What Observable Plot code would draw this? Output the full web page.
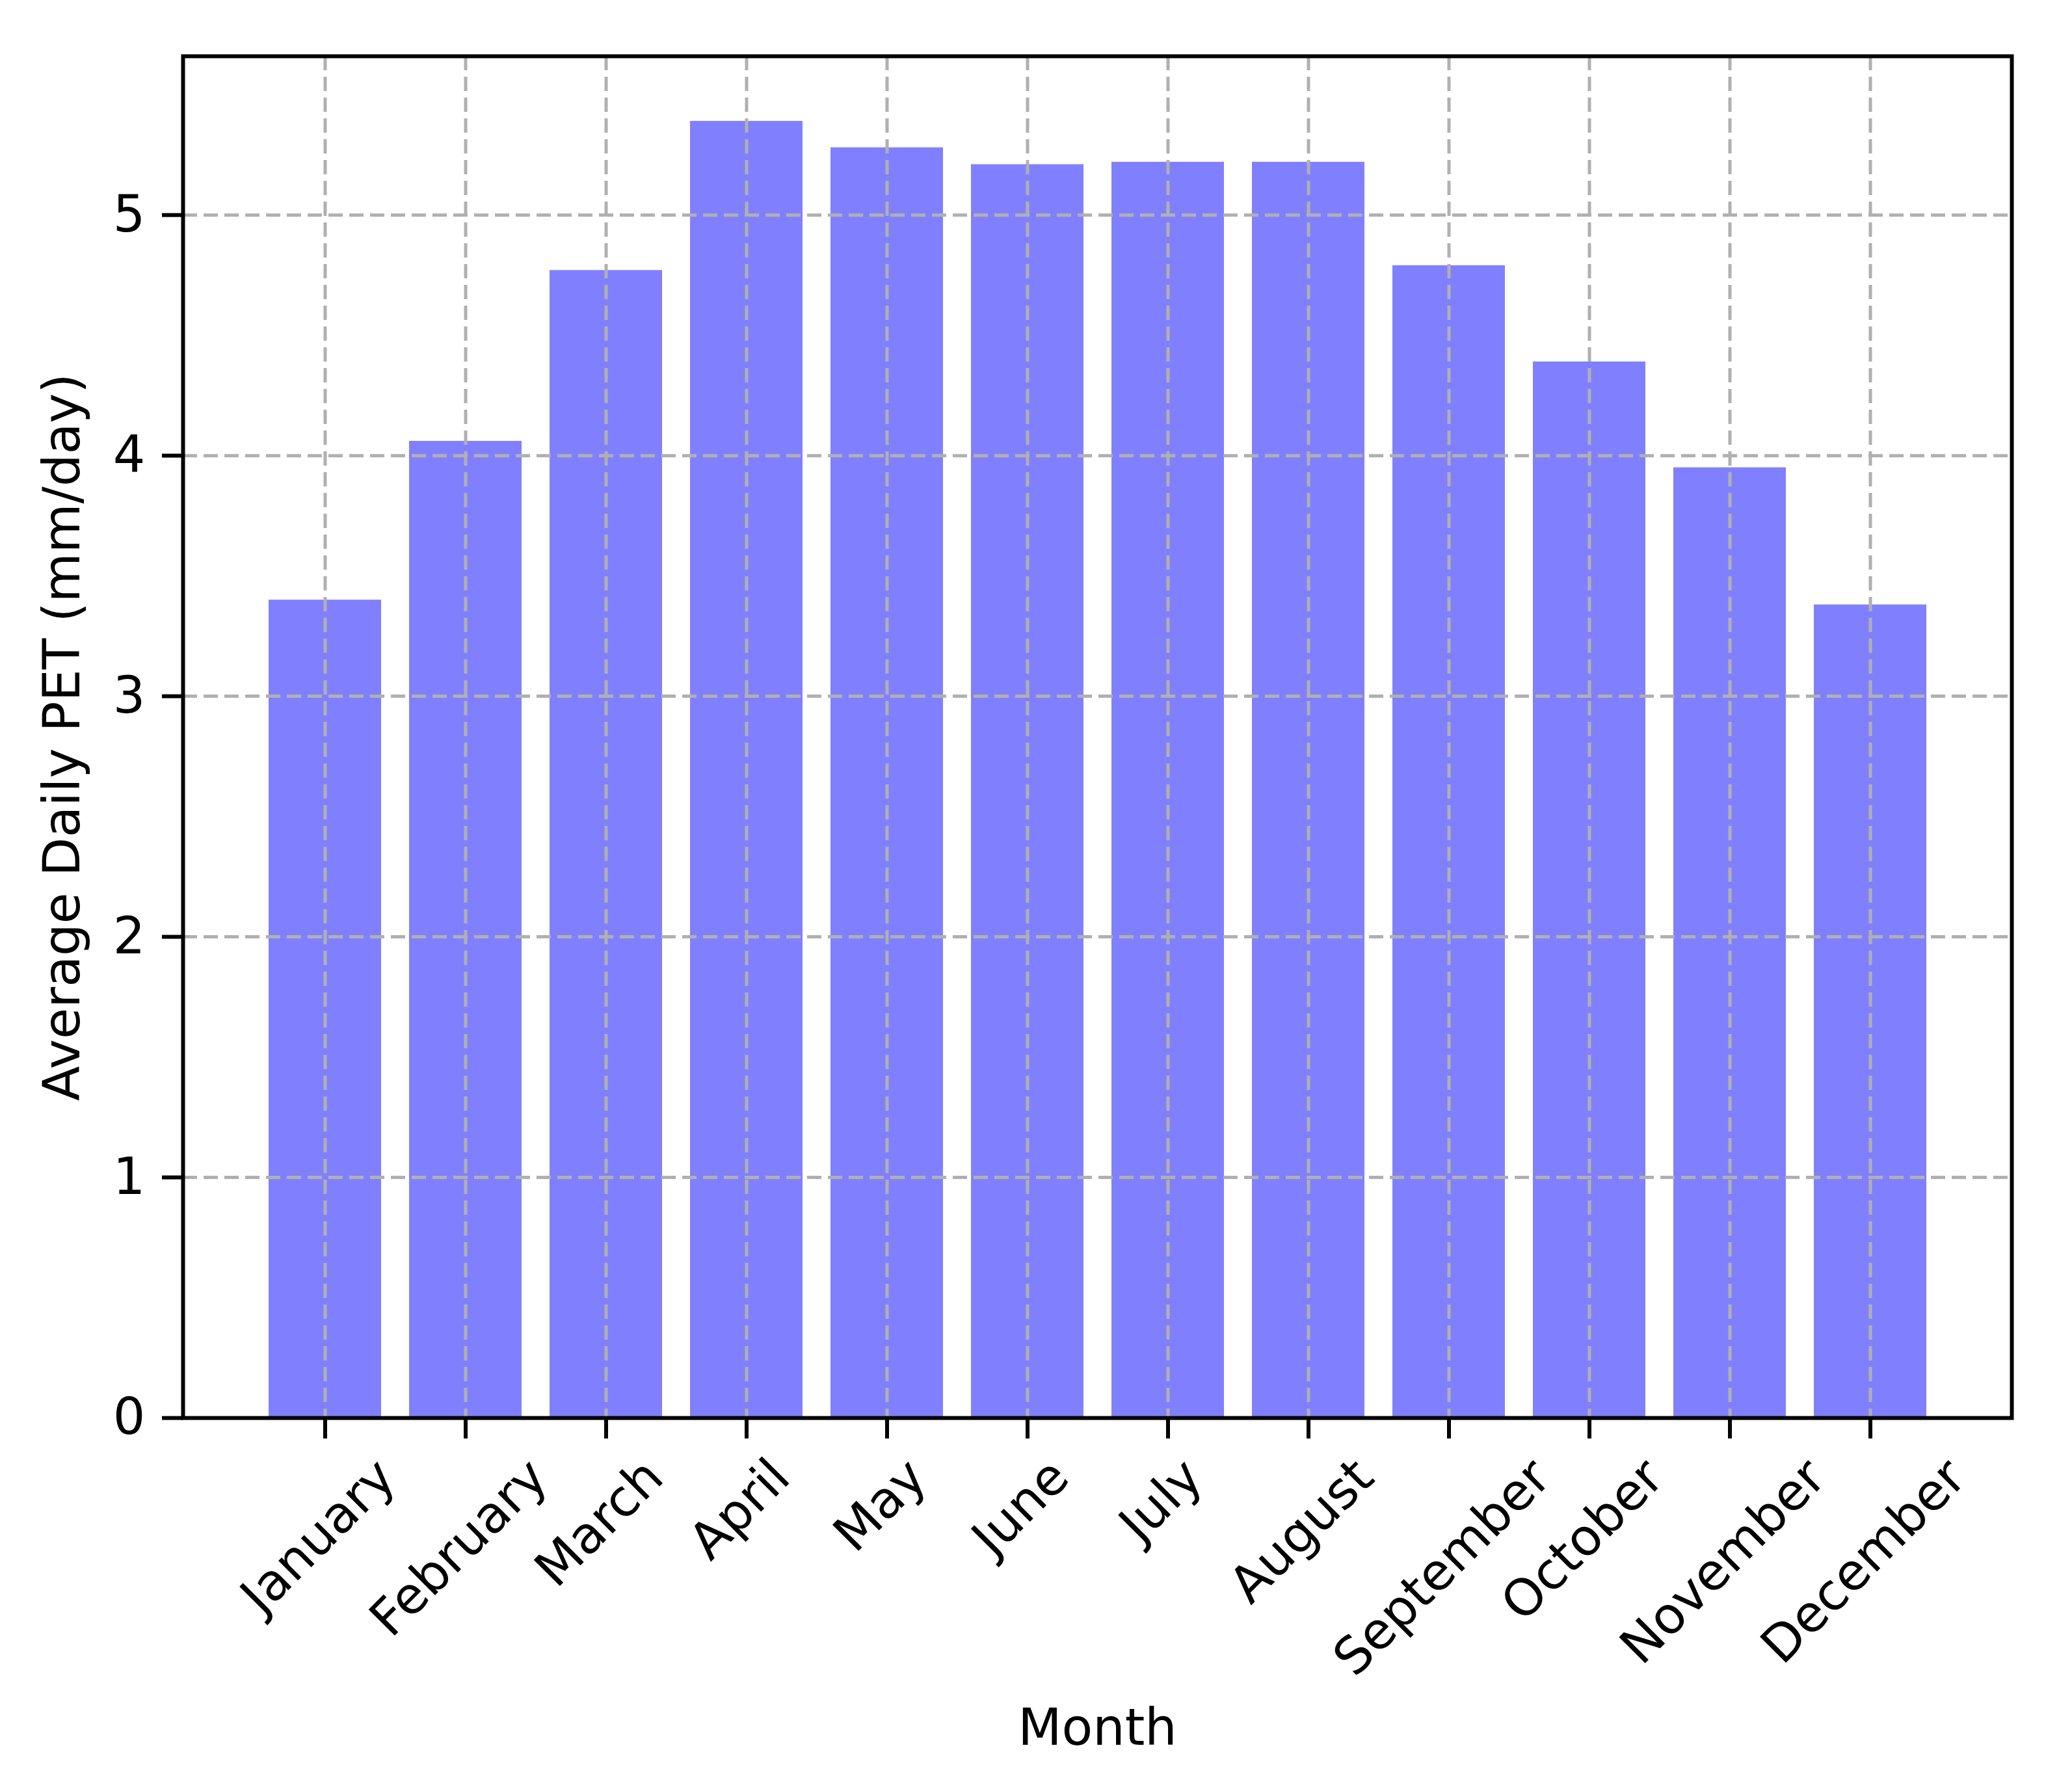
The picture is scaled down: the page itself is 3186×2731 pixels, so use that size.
<!DOCTYPE html>
<html>
<head>
<meta charset="utf-8">
<script src="https://cdn.jsdelivr.net/npm/d3@7"></script>
<script src="https://cdn.jsdelivr.net/npm/@observablehq/plot@0.6"></script>
<style>
  html, body { margin: 0; padding: 0; background: white; }
  #chart { width: 3186px; height: 2731px; }
</style>
</head>
<body>
<div id="chart"></div>
<script>
const months = ["January", "February", "March", "April", "May", "June", "July", "August", "September", "October", "November", "December"];
const pet = [3.40, 4.06, 4.77, 5.39, 5.28, 5.21, 5.22, 5.22, 4.79, 4.39, 3.95, 3.38];
const yTicks = [0, 1, 2, 3, 4, 5];
const xTitle = "Month";
const yTitle = "Average Daily PET (mm/day)";

const data = months.map((m, i) => ({month: m, pet: pet[i]}));

const W = 3186, H = 2731;
const ML = 281, MR = 93, MT = 86, MB = 551;
const FS = 78;
const gridStyle = {stroke: "#b0b0b0", strokeWidth: 5, strokeDasharray: "22,10"};

const chart = Plot.plot({
  width: W,
  height: H,
  marginLeft: ML,
  marginRight: MR,
  marginTop: MT,
  marginBottom: MB,
  style: {fontFamily: "DejaVu Sans", fontSize: FS + "px", background: "white", color: "black", overflow: "visible"},
  x: {type: "band", domain: months, paddingInner: 0.2, paddingOuter: 0.59, label: null},
  y: {domain: [0, 5.66], label: null},
  marks: [
    Plot.barY(data, {x: "month", y: "pet", fill: "#8080ff"}),
    Plot.ruleX(months, {x: d => d, ...gridStyle}),
    Plot.ruleY(yTicks, {y: d => d, ...gridStyle}),
    Plot.frame({stroke: "black", strokeWidth: 6}),
    Plot.axisY(yTicks, {tickSize: 32, tickPadding: 26, strokeWidth: 6, label: null, tickFormat: d => String(d), fontSize: FS}),
    Plot.axisX(months, {tickSize: 32, strokeWidth: 6, label: null, tickFormat: () => ""}),
    Plot.text(months, {x: d => d, text: d => d, frameAnchor: "bottom", rotate: -45, textAnchor: "middle", lineAnchor: "middle", fontSize: FS, fill: "black"}),
    Plot.text([xTitle], {text: d => d, frameAnchor: "bottom", dy: 478, textAnchor: "middle", lineAnchor: "middle", fontSize: FS, fill: "black"}),
    Plot.text([yTitle], {text: d => d, frameAnchor: "left", dx: -184, rotate: -90, textAnchor: "middle", lineAnchor: "middle", fontSize: FS, fill: "black"})
  ]
});

document.getElementById("chart").appendChild(chart);

// Place rotated month labels like matplotlib: rotated bounding box centred under the tick, top just below the tick.
const monthSet = new Set(months);
d3.select(chart).selectAll("text").each(function () {
  const t = this.getAttribute("transform") || "";
  if (!monthSet.has(this.textContent) || !/rotate\(-45\)/.test(t)) return;
  const L = this.getComputedTextLength();
  const h = (L + 1.16 * FS) * Math.SQRT1_2;
  const off = 46 + h / 2;
  this.setAttribute("transform", `translate(-10,${off}) ` + t);
});
</script>
</body>
</html>
